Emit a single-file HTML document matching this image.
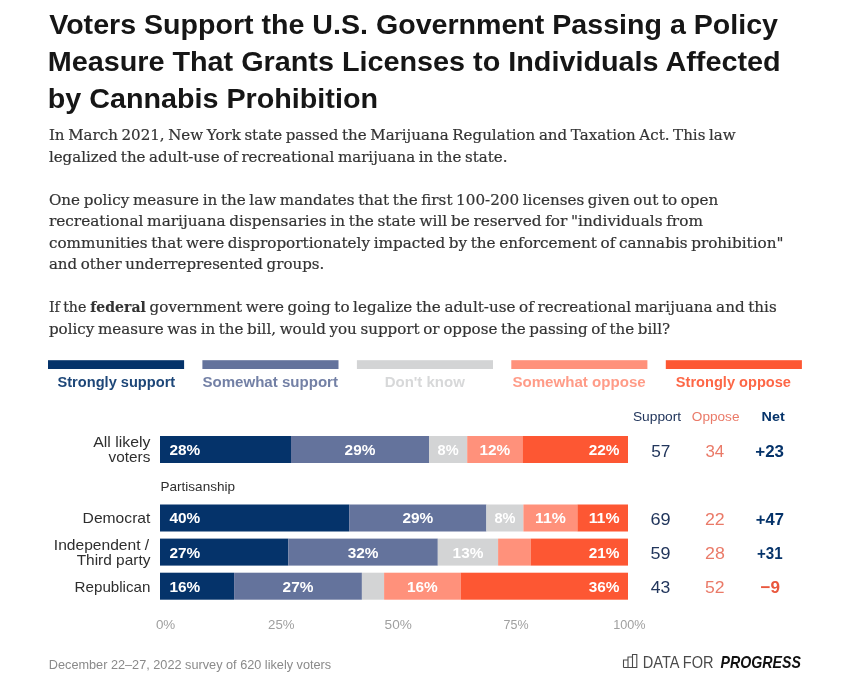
<!DOCTYPE html>
<html lang="en">
<head>
<meta charset="utf-8">
<title>Voters Support the U.S. Government Passing a Policy Measure That Grants Licenses to Individuals Affected by Cannabis Prohibition</title>
<style>
html,body{margin:0;padding:0;background:#fff;}
body{width:850px;height:677px;overflow:hidden;font-family:'Liberation Sans', sans-serif;}
svg{display:block;font-family:'Liberation Sans', sans-serif;}
text{white-space:pre;}
</style>
</head>
<body>
<svg width="850" height="677" viewBox="0 0 850 677">
<rect width="850" height="677" fill="#ffffff"/>
<text x="49.2" y="34.4" font-size="27.6" fill="#161616" font-weight="bold" textLength="728.8" lengthAdjust="spacingAndGlyphs">Voters Support the U.S. Government Passing a Policy</text>
<text x="47.7" y="71.1" font-size="27.6" fill="#161616" font-weight="bold" textLength="732.9" lengthAdjust="spacingAndGlyphs">Measure That Grants Licenses to Individuals Affected</text>
<text x="47.7" y="107.8" font-size="27.6" fill="#161616" font-weight="bold" textLength="330.3" lengthAdjust="spacingAndGlyphs">by Cannabis Prohibition</text>
<text x="48.9" y="140.0" font-size="15.2" fill="#333" font-family="'DejaVu Serif', 'Liberation Serif', serif" textLength="686.8" lengthAdjust="spacingAndGlyphs" word-spacing="-1.2" stroke="#333" stroke-width="0.2">In March 2021, New York state passed the Marijuana Regulation and Taxation Act. This law</text>
<text x="48.9" y="161.6" font-size="15.2" fill="#333" font-family="'DejaVu Serif', 'Liberation Serif', serif" textLength="458.6" lengthAdjust="spacingAndGlyphs" word-spacing="-1.2" stroke="#333" stroke-width="0.2">legalized the adult-use of recreational marijuana in the state.</text>
<text x="48.9" y="204.7" font-size="15.2" fill="#333" font-family="'DejaVu Serif', 'Liberation Serif', serif" textLength="669.4" lengthAdjust="spacingAndGlyphs" word-spacing="-1.2" stroke="#333" stroke-width="0.2">One policy measure in the law mandates that the first 100-200 licenses given out to open</text>
<text x="48.9" y="226.2" font-size="15.2" fill="#333" font-family="'DejaVu Serif', 'Liberation Serif', serif" textLength="654.0" lengthAdjust="spacingAndGlyphs" word-spacing="-1.2" stroke="#333" stroke-width="0.2">recreational marijuana dispensaries in the state will be reserved for "individuals from</text>
<text x="48.9" y="247.8" font-size="15.2" fill="#333" font-family="'DejaVu Serif', 'Liberation Serif', serif" textLength="734.6" lengthAdjust="spacingAndGlyphs" word-spacing="-1.2" stroke="#333" stroke-width="0.2">communities that were disproportionately impacted by the enforcement of cannabis prohibition"</text>
<text x="48.9" y="269.3" font-size="15.2" fill="#333" font-family="'DejaVu Serif', 'Liberation Serif', serif" textLength="275.4" lengthAdjust="spacingAndGlyphs" word-spacing="-1.2" stroke="#333" stroke-width="0.2">and other underrepresented groups.</text>
<text x="48.9" y="334.0" font-size="15.2" fill="#333" font-family="'DejaVu Serif', 'Liberation Serif', serif" textLength="621.2" lengthAdjust="spacingAndGlyphs" word-spacing="-1.2" stroke="#333" stroke-width="0.2">policy measure was in the bill, would you support or oppose the passing of the bill?</text>
<text x="48.9" y="312.4" font-size="15.2" fill="#333" font-family="'DejaVu Serif', 'Liberation Serif', serif" textLength="37.5" lengthAdjust="spacingAndGlyphs" word-spacing="-1.2" stroke="#333" stroke-width="0.2">If the</text>
<text x="90.3" y="312.4" font-size="15.2" fill="#333" font-weight="bold" font-family="'DejaVu Serif', 'Liberation Serif', serif" textLength="55.5" lengthAdjust="spacingAndGlyphs" stroke="#333" stroke-width="0.1">federal</text>
<text x="149.6" y="312.4" font-size="15.2" fill="#333" font-family="'DejaVu Serif', 'Liberation Serif', serif" textLength="627.1" lengthAdjust="spacingAndGlyphs" word-spacing="-1.2" stroke="#333" stroke-width="0.2">government were going to legalize the adult-use of recreational marijuana and this</text>
<rect x="48.0" y="360.2" width="136.1" height="8.8" fill="#05336a"/>
<text x="57.5" y="386.7" font-size="14.3" fill="#05336a" font-weight="bold" textLength="117.7" lengthAdjust="spacingAndGlyphs" opacity="0.9">Strongly support</text>
<rect x="202.4" y="360.2" width="136.1" height="8.8" fill="#64739c"/>
<text x="202.4" y="386.7" font-size="14.3" fill="#64739c" font-weight="bold" textLength="135.6" lengthAdjust="spacingAndGlyphs" opacity="0.9">Somewhat support</text>
<rect x="356.9" y="360.2" width="136.1" height="8.8" fill="#d3d4d5"/>
<text x="384.7" y="386.7" font-size="14.3" fill="#d3d4d5" font-weight="bold" textLength="80.1" lengthAdjust="spacingAndGlyphs" opacity="0.9">Don't know</text>
<rect x="511.3" y="360.2" width="136.1" height="8.8" fill="#ff917b"/>
<text x="512.4" y="386.7" font-size="14.3" fill="#ff917b" font-weight="bold" textLength="133.3" lengthAdjust="spacingAndGlyphs" opacity="0.9">Somewhat oppose</text>
<rect x="665.8" y="360.2" width="136.1" height="8.8" fill="#fd5733"/>
<text x="675.8" y="386.7" font-size="14.3" fill="#fd5733" font-weight="bold" textLength="115.2" lengthAdjust="spacingAndGlyphs" opacity="0.9">Strongly oppose</text>
<text x="632.9" y="420.5" font-size="13.4" fill="#22365c" textLength="48.3" lengthAdjust="spacingAndGlyphs">Support</text>
<text x="691.8" y="420.5" font-size="13.4" fill="#ea7a68" textLength="47.7" lengthAdjust="spacingAndGlyphs">Oppose</text>
<text x="761.6" y="420.5" font-size="13.4" fill="#05336a" font-weight="bold" textLength="23.1" lengthAdjust="spacingAndGlyphs">Net</text>
<rect x="160" y="436" width="131" height="27" fill="#05336a"/>
<rect x="291" y="436" width="138" height="27" fill="#64739c"/>
<rect x="429" y="436" width="38.2" height="27" fill="#d3d4d5"/>
<rect x="467.2" y="436" width="55.3" height="27" fill="#ff917b"/>
<rect x="522.5" y="436" width="105.5" height="27" fill="#fd5733"/>
<text x="169.4" y="454.9" font-size="15.2" fill="#fff" font-weight="bold" textLength="30.8" lengthAdjust="spacingAndGlyphs">28%</text>
<text x="344.6" y="454.9" font-size="15.2" fill="#fff" font-weight="bold" textLength="30.8" lengthAdjust="spacingAndGlyphs">29%</text>
<text x="437.6" y="454.9" font-size="15.2" fill="#fff" font-weight="bold" textLength="21.0" lengthAdjust="spacingAndGlyphs">8%</text>
<text x="479.5" y="454.9" font-size="15.2" fill="#fff" font-weight="bold" textLength="30.8" lengthAdjust="spacingAndGlyphs">12%</text>
<text x="588.7" y="454.9" font-size="15.2" fill="#fff" font-weight="bold" textLength="30.8" lengthAdjust="spacingAndGlyphs">22%</text>
<text x="93.2" y="447.2" font-size="14.6" fill="#2e2e2e" textLength="57.2" lengthAdjust="spacingAndGlyphs">All likely</text>
<text x="108.6" y="461.9" font-size="14.6" fill="#2e2e2e" textLength="41.8" lengthAdjust="spacingAndGlyphs">voters</text>
<text x="651.2" y="456.6" font-size="17" fill="#22365c" textLength="19.2" lengthAdjust="spacingAndGlyphs">57</text>
<text x="705.4" y="456.6" font-size="17" fill="#ea7a68" textLength="18.8" lengthAdjust="spacingAndGlyphs">34</text>
<text x="755.3" y="456.6" font-size="17" fill="#05336a" font-weight="bold" textLength="28.7" lengthAdjust="spacingAndGlyphs">+23</text>
<rect x="160" y="504.5" width="189.2" height="27" fill="#05336a"/>
<rect x="349.2" y="504.5" width="137.2" height="27" fill="#64739c"/>
<rect x="486.4" y="504.5" width="37.0" height="27" fill="#d3d4d5"/>
<rect x="523.4" y="504.5" width="54.0" height="27" fill="#ff917b"/>
<rect x="577.4" y="504.5" width="50.6" height="27" fill="#fd5733"/>
<text x="169.4" y="523.4" font-size="15.2" fill="#fff" font-weight="bold" textLength="30.8" lengthAdjust="spacingAndGlyphs">40%</text>
<text x="402.4" y="523.4" font-size="15.2" fill="#fff" font-weight="bold" textLength="30.8" lengthAdjust="spacingAndGlyphs">29%</text>
<text x="494.4" y="523.4" font-size="15.2" fill="#fff" font-weight="bold" textLength="21.0" lengthAdjust="spacingAndGlyphs">8%</text>
<text x="535.0" y="523.4" font-size="15.2" fill="#fff" font-weight="bold" textLength="30.8" lengthAdjust="spacingAndGlyphs">11%</text>
<text x="588.7" y="523.4" font-size="15.2" fill="#fff" font-weight="bold" textLength="30.8" lengthAdjust="spacingAndGlyphs">11%</text>
<text x="82.6" y="523.3" font-size="14.6" fill="#2e2e2e" textLength="67.8" lengthAdjust="spacingAndGlyphs">Democrat</text>
<text x="650.4" y="525.1" font-size="17" fill="#22365c" textLength="20.2" lengthAdjust="spacingAndGlyphs">69</text>
<text x="704.9" y="525.1" font-size="17" fill="#ea7a68" textLength="19.8" lengthAdjust="spacingAndGlyphs">22</text>
<text x="755.8" y="525.1" font-size="17" fill="#05336a" font-weight="bold" textLength="28.2" lengthAdjust="spacingAndGlyphs">+47</text>
<rect x="160" y="538.6" width="128.3" height="27" fill="#05336a"/>
<rect x="288.3" y="538.6" width="149.5" height="27" fill="#64739c"/>
<rect x="437.8" y="538.6" width="60.3" height="27" fill="#d3d4d5"/>
<rect x="498.1" y="538.6" width="32.5" height="27" fill="#ff917b"/>
<rect x="530.6" y="538.6" width="97.4" height="27" fill="#fd5733"/>
<text x="169.4" y="557.5" font-size="15.2" fill="#fff" font-weight="bold" textLength="30.8" lengthAdjust="spacingAndGlyphs">27%</text>
<text x="347.7" y="557.5" font-size="15.2" fill="#fff" font-weight="bold" textLength="30.8" lengthAdjust="spacingAndGlyphs">32%</text>
<text x="452.6" y="557.5" font-size="15.2" fill="#fff" font-weight="bold" textLength="30.8" lengthAdjust="spacingAndGlyphs">13%</text>
<text x="588.7" y="557.5" font-size="15.2" fill="#fff" font-weight="bold" textLength="30.8" lengthAdjust="spacingAndGlyphs">21%</text>
<text x="53.8" y="549.8" font-size="14.6" fill="#2e2e2e" textLength="95.4" lengthAdjust="spacingAndGlyphs">Independent /</text>
<text x="76.7" y="564.5" font-size="14.6" fill="#2e2e2e" textLength="73.7" lengthAdjust="spacingAndGlyphs">Third party</text>
<text x="650.6" y="559.2" font-size="17" fill="#22365c" textLength="20.0" lengthAdjust="spacingAndGlyphs">59</text>
<text x="705" y="559.2" font-size="17" fill="#ea7a68" textLength="19.8" lengthAdjust="spacingAndGlyphs">28</text>
<text x="757" y="559.2" font-size="17" fill="#05336a" font-weight="bold" textLength="25.6" lengthAdjust="spacingAndGlyphs">+31</text>
<rect x="160" y="572.7" width="74.1" height="27" fill="#05336a"/>
<rect x="234.1" y="572.7" width="127.8" height="27" fill="#64739c"/>
<rect x="361.9" y="572.7" width="22.2" height="27" fill="#d3d4d5"/>
<rect x="384.1" y="572.7" width="76.6" height="27" fill="#ff917b"/>
<rect x="460.7" y="572.7" width="167.3" height="27" fill="#fd5733"/>
<text x="169.4" y="591.6" font-size="15.2" fill="#fff" font-weight="bold" textLength="30.8" lengthAdjust="spacingAndGlyphs">16%</text>
<text x="282.6" y="591.6" font-size="15.2" fill="#fff" font-weight="bold" textLength="30.8" lengthAdjust="spacingAndGlyphs">27%</text>
<text x="407.0" y="591.6" font-size="15.2" fill="#fff" font-weight="bold" textLength="30.8" lengthAdjust="spacingAndGlyphs">16%</text>
<text x="588.7" y="591.6" font-size="15.2" fill="#fff" font-weight="bold" textLength="30.8" lengthAdjust="spacingAndGlyphs">36%</text>
<text x="74.6" y="591.5" font-size="14.6" fill="#2e2e2e" textLength="75.8" lengthAdjust="spacingAndGlyphs">Republican</text>
<text x="650.8" y="593.3" font-size="17" fill="#22365c" textLength="19.6" lengthAdjust="spacingAndGlyphs">43</text>
<text x="705" y="593.3" font-size="17" fill="#ea7a68" textLength="19.6" lengthAdjust="spacingAndGlyphs">52</text>
<text x="760.5" y="593.3" font-size="17" fill="#e9573d" font-weight="bold" textLength="19.5" lengthAdjust="spacingAndGlyphs">−9</text>
<text x="160.5" y="490.8" font-size="13.2" fill="#2e2e2e" textLength="74.5" lengthAdjust="spacingAndGlyphs">Partisanship</text>
<text x="155.9" y="629.3" font-size="12.8" fill="#a0a0a0" textLength="19.4" lengthAdjust="spacingAndGlyphs">0%</text>
<text x="268.1" y="629.3" font-size="12.8" fill="#a0a0a0" textLength="26.5" lengthAdjust="spacingAndGlyphs">25%</text>
<text x="384.6" y="629.3" font-size="12.8" fill="#a0a0a0" textLength="27.2" lengthAdjust="spacingAndGlyphs">50%</text>
<text x="503.5" y="629.3" font-size="12.8" fill="#a0a0a0" textLength="25.0" lengthAdjust="spacingAndGlyphs">75%</text>
<text x="613.2" y="629.3" font-size="12.8" fill="#a0a0a0" textLength="32.4" lengthAdjust="spacingAndGlyphs">100%</text>
<text x="48.8" y="669" font-size="12.3" fill="#8a8a8a" textLength="282.4" lengthAdjust="spacingAndGlyphs">December 22–27, 2022 survey of 620 likely voters</text>
<path d="M623.5 667.5V660h4.5v7.5M628 660v-3h4.5v10.5M632.5 657v-2.5h4.3v13H623.5" fill="none" stroke="#4a4a4a" stroke-width="1.1"/>
<text x="642.8" y="667.7" font-size="16.2" fill="#4a4a4a" textLength="70.7" lengthAdjust="spacingAndGlyphs">DATA FOR</text>
<text x="720.6" y="667.7" font-size="16.2" fill="#111" font-weight="bold" font-style="italic" textLength="80.4" lengthAdjust="spacingAndGlyphs">PROGRESS</text>
</svg>
</body>
</html>
